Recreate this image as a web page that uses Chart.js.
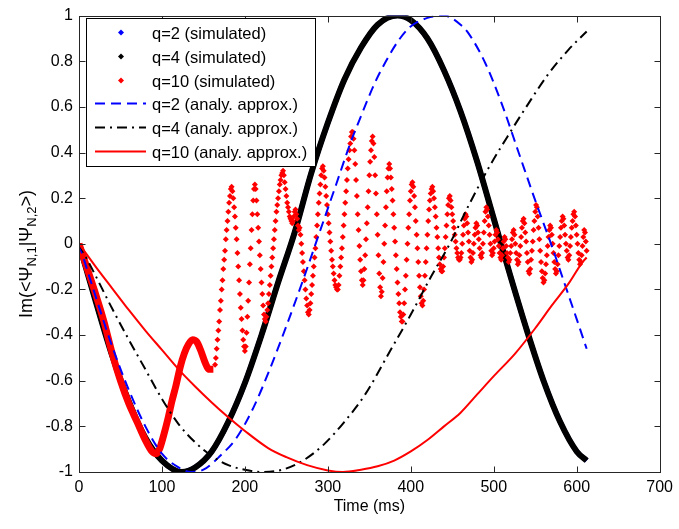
<!DOCTYPE html>
<html>
<head>
<meta charset="utf-8">
<script src="https://cdn.jsdelivr.net/npm/chart.js@4.4.0/dist/chart.umd.min.js"></script>
<style>
  body { margin: 0; background: #fff; }
  canvas { display: block; }
</style>
</head>
<body>
<canvas id="myChart" width="679" height="529"></canvas>
<script>
const FONT = '"Liberation Sans", Arial, sans-serif';

const xTicks = [0, 100, 200, 300, 400, 500, 600, 700];
const yTicks = [-1, -0.8, -0.6, -0.4, -0.2, 0, 0.2, 0.4, 0.6, 0.8, 1];

// q=2 and q=4 simulated overlap (blue is hidden under black)
const q2SimTime = [0, 20, 40, 60, 80, 100, 124, 140, 160, 180, 200, 220, 240, 260, 280, 300, 320, 340, 360, 384, 400, 420, 440, 460, 480, 500, 520, 540, 560, 580, 600, 612];
const q2SimValues = [0, -0.25, -0.49, -0.69, -0.85, -0.95, -1, -0.98, -0.91, -0.78, -0.61, -0.40, -0.17, 0.05, 0.31, 0.53, 0.72, 0.86, 0.96, 1, 0.98, 0.90, 0.76, 0.58, 0.36, 0.11, -0.14, -0.38, -0.60, -0.78, -0.91, -0.95];
const q4SimTime = [0, 20, 40, 60, 80, 100, 124, 140, 160, 180, 200, 220, 240, 260, 280, 300, 320, 340, 360, 384, 400, 420, 440, 460, 480, 500, 520, 540, 560, 580, 600, 612];
const q4SimValues = [0, -0.25, -0.49, -0.69, -0.85, -0.95, -1, -0.98, -0.91, -0.78, -0.61, -0.40, -0.17, 0.05, 0.31, 0.53, 0.72, 0.86, 0.96, 1, 0.98, 0.90, 0.76, 0.58, 0.36, 0.11, -0.14, -0.38, -0.60, -0.78, -0.91, -0.95];

// q=10 simulated: dense early part, then sampled points
const q10SimEarlyTime = [0, 10, 20, 30, 40, 50, 60, 70, 80, 88, 93, 97, 102, 107, 112, 117, 122, 127, 132, 137, 142, 147, 152, 157, 162];
const q10SimEarlyValues = [0, -0.11, -0.22, -0.34, -0.48, -0.60, -0.70, -0.78, -0.86, -0.91, -0.92, -0.90, -0.84, -0.77, -0.69, -0.62, -0.54, -0.48, -0.44, -0.42, -0.43, -0.47, -0.52, -0.55, -0.55];
const q10SimPoints = [
  [164,-0.53],[165,-0.50],[166,-0.46],[167,-0.42],[168,-0.38],[169,-0.34],[170,-0.29],[171,-0.25],[172,-0.20],[173,-0.16],[174,-0.11],[175,-0.07],[176,-0.03],[177,0.02],[178,0.06],[179,0.10],[180,0.14],[181,0.18],[182,0.21],[183,0.24],[184,0.25],
  [185,0.23],[186,0.20],[187,0.16],[188,0.12],[189,0.07],[190,0.02],[191,-0.04],[192,-0.10],[193,-0.16],[194,-0.22],[195,-0.28],[196,-0.33],[197,-0.38],[198,-0.42],[199,-0.45],[200,-0.47],
  [201,-0.45],[202,-0.39],[203,-0.32],[204,-0.25],[205,-0.17],[206,-0.09],[207,-0.02],[208,0.06],[209,0.13],[210,0.19],[211,0.24],[212,0.26],
  [213,0.24],[214,0.19],[215,0.13],[216,0.07],[217,0.01],[218,-0.05],[219,-0.11],[220,-0.17],[221,-0.22],[222,-0.27],[223,-0.31],[224,-0.33],[225,-0.34],
  [226,-0.32],[227,-0.29],[228,-0.26],[229,-0.22],[230,-0.18],[231,-0.14],[232,-0.10],[233,-0.06],[234,-0.02],[235,0.02],[236,0.06],[237,0.10],[238,0.14],[239,0.17],[240,0.20],[241,0.23],[242,0.26],[243,0.28],[244,0.30],[245,0.31],[246,0.32],
  [247,0.30],[248,0.27],[249,0.24],[250,0.21],[251,0.18],[252,0.16],[253,0.14],[254,0.12],[255,0.11],[256,0.10],[257,0.09],[258,0.10],[259,0.12],[260,0.14],[261,0.15],[262,0.13],[263,0.11],[264,0.08],[265,0.06],[266,0.07],[267,0.04],[268,0.00],[269,-0.04],[270,-0.08],[271,-0.12],[272,-0.16],[273,-0.20],[274,-0.24],[275,-0.27],[276,-0.30],[277,-0.31],
  [278,-0.29],[279,-0.26],[280,-0.22],[281,-0.18],[282,-0.14],[283,-0.10],[284,-0.06],[285,-0.02],[286,0.03],[287,0.08],[288,0.13],[289,0.18],[290,0.22],[291,0.26],[292,0.30],[293,0.33],[294,0.34],
  [295,0.32],[296,0.29],[297,0.25],[298,0.21],[299,0.17],[300,0.13],[301,0.09],[302,0.05],[303,0.01],[304,-0.03],[305,-0.07],[306,-0.10],[307,-0.13],[308,-0.16],[309,-0.18],[310,-0.19],[311,-0.20],[312,-0.20],
  [313,-0.18],[314,-0.14],[315,-0.10],[316,-0.06],[317,-0.02],[318,0.03],[319,0.08],[320,0.13],[321,0.18],[322,0.23],[323,0.28],[324,0.33],[325,0.37],[326,0.41],[327,0.44],[328,0.47],[329,0.49],[330,0.49],
  [331,0.46],[332,0.41],[333,0.35],[334,0.28],[335,0.21],[336,0.13],[337,0.06],[338,-0.01],[339,-0.07],[340,-0.12],[341,-0.16],[342,-0.18],
  [343,-0.16],[344,-0.11],[345,-0.05],[346,0.02],[347,0.09],[348,0.16],[349,0.23],[350,0.30],[351,0.36],[352,0.41],[353,0.45],[354,0.47],
  [355,0.44],[356,0.38],[357,0.30],[358,0.22],[359,0.13],[360,0.04],[361,-0.05],[362,-0.13],[363,-0.19],[364,-0.23],
  [365,-0.21],[366,-0.15],[367,-0.08],[368,0.00],[369,0.08],[370,0.16],[371,0.23],[372,0.29],[373,0.33],[374,0.35],
  [375,0.33],[376,0.29],[377,0.24],[378,0.19],[379,0.13],[380,0.07],[381,0.01],[382,-0.05],[383,-0.11],[384,-0.17],[385,-0.22],[386,-0.26],[387,-0.30],[388,-0.32],[389,-0.34],[390,-0.34],
  [391,-0.31],[392,-0.26],[393,-0.20],[394,-0.14],[395,-0.07],[396,0.00],[397,0.07],[398,0.13],[399,0.19],[400,0.23],[401,0.26],[402,0.27],
  [403,0.25],[404,0.21],[405,0.16],[406,0.10],[407,0.04],[408,-0.02],[409,-0.08],[410,-0.14],[411,-0.19],[412,-0.23],[413,-0.26],[414,-0.27],
  [415,-0.25],[416,-0.20],[417,-0.14],[418,-0.08],[419,-0.02],[420,0.04],[421,0.10],[422,0.15],[423,0.19],[424,0.22],[425,0.24],[426,0.25],
  [427,0.23],[428,0.20],[429,0.16],[430,0.12],[431,0.07],[432,0.03],[433,-0.02],[434,-0.06],[435,-0.09],[436,-0.11],[437,-0.12],[438,-0.12],
  [439,-0.10],[440,-0.06],[441,-0.02],[442,0.03],[443,0.08],[444,0.13],[445,0.17],[446,0.20],[447,0.21],
  [448,0.19],[449,0.16],[450,0.13],[451,0.10],[452,0.07],[453,0.04],[454,0.01],[455,-0.02],[456,-0.04],[457,-0.06],[458,-0.07],[459,-0.07],[460,-0.06],
  [461,-0.04],[462,0.00],[463,0.04],[464,0.08],[465,0.11],[466,0.13],[467,0.12],[468,0.09],[469,0.05],[470,0.01],[471,-0.03],[472,-0.06],[473,-0.08],[474,-0.07],[475,-0.04],[476,0.00],[477,0.04],[478,0.07],[479,0.09],[480,0.08],
  [481,0.05],[482,0.02],[483,-0.02],[484,-0.05],[485,-0.06],[486,-0.04],[487,0.00],[488,0.05],[489,0.10],[490,0.14],[491,0.16],[492,0.15],[493,0.12],[494,0.08],[495,0.04],[496,0.00],[497,-0.03],[498,-0.05],[499,-0.04],[500,-0.02],
  [501,0.01],[502,0.04],[503,0.06],[504,0.05],[505,0.02],[506,-0.01],[507,-0.04],[508,-0.06],[509,-0.07],[510,-0.05],[511,-0.02],[512,0.01],[513,0.03],[514,0.02],[515,-0.01],[516,-0.04],[517,-0.06],[518,-0.08],[519,-0.07],[520,-0.04],
  [521,-0.01],[522,0.02],[523,0.05],[524,0.06],[525,0.04],[526,0.00],[527,-0.04],[528,-0.07],[529,-0.09],[530,-0.08],[531,-0.05],[532,-0.01],[533,0.03],[534,0.07],[535,0.10],[536,0.11],[537,0.09],[538,0.05],[539,0.01],[540,-0.04],
  [541,-0.08],[542,-0.12],[543,-0.13],[544,-0.11],[545,-0.07],[546,-0.03],[547,0.01],[548,0.06],[549,0.10],[550,0.14],[551,0.17],[552,0.16],[553,0.12],[554,0.07],[555,0.02],[556,-0.03],[557,-0.08],[558,-0.12],[559,-0.15],[560,-0.17],
  [561,-0.16],[562,-0.13],[563,-0.09],[564,-0.05],[565,-0.01],[566,0.03],[567,0.06],[568,0.08],[569,0.07],[570,0.04],[571,0.00],[572,-0.04],[573,-0.08],[574,-0.11],[575,-0.13],[576,-0.12],[577,-0.09],[578,-0.05],[579,-0.01],[580,0.03],
  [581,0.07],[582,0.10],[583,0.12],[584,0.11],[585,0.08],[586,0.04],[587,0.00],[588,-0.03],[589,-0.06],[590,-0.07],[591,-0.05],[592,-0.01],[593,0.03],[594,0.07],[595,0.10],[596,0.13],[597,0.14],[598,0.12],[599,0.08],[600,0.04],
  [601,0.00],[602,-0.04],[603,-0.07],[604,-0.09],[605,-0.08],[606,-0.05],[607,-0.01],[608,0.03],[609,0.06],[610,0.05],[611,0.01],[612,-0.03]
];

// analytic approximations
const q2AnaTime = [0, 20, 40, 60, 80, 100, 120, 135, 150, 170, 190, 210, 230, 250, 270, 290, 310, 327, 340, 356, 370, 385, 399, 420, 440, 460, 470, 490, 510, 530, 550, 570, 585, 600, 612];
const q2AnaValues = [0, -0.23, -0.45, -0.64, -0.80, -0.92, -0.98, -1, -0.99, -0.93, -0.85, -0.72, -0.55, -0.36, -0.16, 0.05, 0.26, 0.44, 0.56, 0.70, 0.80, 0.89, 0.95, 0.99, 1, 0.96, 0.92, 0.79, 0.61, 0.40, 0.19, -0.01, -0.17, -0.33, -0.46];
const q4AnaTime = [0, 20, 38, 60, 80, 100, 120, 140, 160, 180, 200, 220, 245, 270, 295, 320, 345, 375, 400, 425, 447, 470, 495, 520, 541, 565, 590, 612];
const q4AnaValues = [0, -0.14, -0.27, -0.42, -0.55, -0.68, -0.79, -0.87, -0.93, -0.97, -0.99, -1, -0.99, -0.95, -0.88, -0.78, -0.66, -0.47, -0.31, -0.14, 0, 0.17, 0.34, 0.49, 0.61, 0.74, 0.85, 0.93];
const q10AnaTime = [0, 20, 40, 60, 80, 100, 120, 140, 160, 180, 200, 228, 250, 275, 300, 318, 340, 360, 380, 400, 420, 440, 460, 480, 500, 526, 550, 570, 591, 607, 612];
const q10AnaValues = [0, -0.10, -0.195, -0.29, -0.38, -0.465, -0.55, -0.625, -0.695, -0.76, -0.82, -0.895, -0.935, -0.97, -0.993, -1, -0.99, -0.975, -0.95, -0.91, -0.86, -0.80, -0.74, -0.66, -0.58, -0.48, -0.37, -0.27, -0.17, -0.08, -0.06];

const toXY = (t, v) => t.map((x, i) => ({ x: x, y: v[i] }));

const datasets = [
  { label: 'q=2 (simulated)', legendKind: 'marker', data: toXY(q2SimTime, q2SimValues),
    showLine: true, borderColor: '#0000ff', borderWidth: 5, pointRadius: 0, cubicInterpolationMode: 'monotone', order: 7 },
  { label: 'q=4 (simulated)', legendKind: 'marker', data: toXY(q4SimTime, q4SimValues),
    showLine: true, borderColor: '#000000', borderWidth: 6, pointRadius: 0, cubicInterpolationMode: 'monotone', order: 6 },
  { label: 'q=10 (simulated)', legendKind: 'marker', data: q10SimPoints.map(p => ({ x: p[0], y: p[1] })),
    showLine: false, pointStyle: 'rectRot', pointRadius: 3, pointBorderWidth: 0,
    backgroundColor: '#ff0000', borderColor: '#ff0000', order: 5 },
  { label: 'q=10 (simulated)', legendKind: 'none', data: toXY(q10SimEarlyTime, q10SimEarlyValues),
    showLine: true, borderColor: '#ff0000', borderWidth: 7, pointRadius: 0, cubicInterpolationMode: 'monotone', order: 4 },
  { label: 'q=2 (analy. approx.)', legendKind: 'line', data: toXY(q2AnaTime, q2AnaValues),
    showLine: true, borderColor: '#0000ff', borderWidth: 2, borderDash: [10, 6], pointRadius: 0, cubicInterpolationMode: 'monotone', order: 3 },
  { label: 'q=4 (analy. approx.)', legendKind: 'line', data: toXY(q4AnaTime, q4AnaValues),
    showLine: true, borderColor: '#000000', borderWidth: 2, borderDash: [10, 5, 2, 5], pointRadius: 0, cubicInterpolationMode: 'monotone', order: 2 },
  { label: 'q=10 (analy. approx.)', legendKind: 'line', data: toXY(q10AnaTime, q10AnaValues),
    showLine: true, borderColor: '#ff0000', borderWidth: 2, pointRadius: 0, cubicInterpolationMode: 'monotone', order: 1 }
];

// box round the plot with inward ticks on all sides
const axesFrame = {
  id: 'axesFrame',
  afterDatasetsDraw(chart) {
    const { ctx, chartArea: a, scales: { x, y } } = chart;
    ctx.save();
    ctx.strokeStyle = '#262626';
    ctx.lineWidth = 1;
    const L = Math.round(a.left) + 0.5, R = Math.round(a.right) + 0.5;
    const T = Math.round(a.top) + 0.5, B = Math.round(a.bottom) + 0.5;
    ctx.strokeRect(L, T, R - L, B - T);
    ctx.beginPath();
    xTicks.forEach(v => {
      const px = Math.round(x.getPixelForValue(v)) + 0.5;
      ctx.moveTo(px, B); ctx.lineTo(px, B - 6);
      ctx.moveTo(px, T); ctx.lineTo(px, T + 6);
    });
    yTicks.forEach(v => {
      const py = Math.round(y.getPixelForValue(v)) + 0.5;
      ctx.moveTo(L, py); ctx.lineTo(L + 6, py);
      ctx.moveTo(R, py); ctx.lineTo(R - 6, py);
    });
    ctx.stroke();
    ctx.restore();
  }
};

// rotated y title with subscripts
const yTitle = {
  id: 'yTitle',
  afterDraw(chart) {
    const ctx = chart.ctx;
    const parts = [['Im(<\u03A8', false], ['N,1', true], ['|\u03A8', false], ['N,2', true], ['>)', false]];
    const big = '18px ' + FONT, small = '13px ' + FONT;
    ctx.save();
    let total = 0;
    parts.forEach(p => { ctx.font = p[1] ? small : big; total += ctx.measureText(p[0]).width; });
    ctx.translate(32, 254);
    ctx.rotate(-Math.PI / 2);
    ctx.fillStyle = '#000';
    ctx.textBaseline = 'alphabetic';
    let xx = -total / 2;
    parts.forEach(p => {
      ctx.font = p[1] ? small : big;
      ctx.fillText(p[0], xx, p[1] ? 4 : 0);
      xx += ctx.measureText(p[0]).width;
    });
    ctx.restore();
  }
};

// legend box inside the axes, top left
const insideLegend = {
  id: 'insideLegend',
  afterDraw(chart) {
    const ctx = chart.ctx;
    const items = chart.data.datasets.filter(d => d.legendKind !== 'none');
    ctx.save();
    ctx.fillStyle = '#fff';
    ctx.fillRect(86, 18, 229, 148);
    ctx.strokeStyle = '#000';
    ctx.lineWidth = 1;
    ctx.strokeRect(86.5, 18.5, 229, 148);
    items.forEach((d, i) => {
      const y = Math.round(32 + i * 23.8) + 0.5;
      const col = d.borderColor;
      if (d.legendKind === 'marker') {
        ctx.fillStyle = col;
        ctx.beginPath();
        ctx.moveTo(121, y - 3); ctx.lineTo(124, y); ctx.lineTo(121, y + 3); ctx.lineTo(118, y);
        ctx.closePath();
        ctx.fill();
      } else {
        ctx.strokeStyle = col;
        ctx.lineWidth = d.borderWidth;
        ctx.setLineDash(d.borderDash || []);
        ctx.beginPath();
        ctx.moveTo(95, y); ctx.lineTo(146, y);
        ctx.stroke();
        ctx.setLineDash([]);
      }
      ctx.fillStyle = '#000';
      ctx.font = '16.5px ' + FONT;
      ctx.textBaseline = 'middle';
      ctx.textAlign = 'left';
      ctx.fillText(d.label, 152, y + 2);
    });
    ctx.restore();
  }
};

const ctx = document.getElementById('myChart').getContext('2d');

new Chart(ctx, {
  type: 'scatter',
  data: { datasets: datasets },
  options: {
    responsive: false,
    animation: false,
    devicePixelRatio: 1,
    layout: { padding: { top: 10, right: 14, left: 0, bottom: 0 } },
    plugins: {
      legend: { display: false },
      tooltip: { enabled: false }
    },
    scales: {
      x: {
        type: 'linear',
        min: 0,
        max: 700,
        grid: { display: false, drawTicks: false },
        border: { display: false },
        ticks: { stepSize: 100, padding: 6, maxRotation: 0, color: '#000', font: { family: FONT, size: 16 } },
        title: { display: true, text: 'Time (ms)', color: '#000', font: { family: FONT, size: 16 }, padding: { top: 0, bottom: 13 } },
        afterFit(scale) { scale.height = 57; }
      },
      y: {
        min: -1,
        max: 1,
        grid: { display: false, drawTicks: false },
        border: { display: false },
        ticks: {
          stepSize: 0.2,
          padding: 6,
          color: '#000',
          font: { family: FONT, size: 16 },
          callback: v => String(Math.round(v * 10) / 10)
        },
        afterFit(scale) { scale.width = 79; }
      }
    }
  },
  plugins: [axesFrame, yTitle, insideLegend]
});
</script>
</body>
</html>
